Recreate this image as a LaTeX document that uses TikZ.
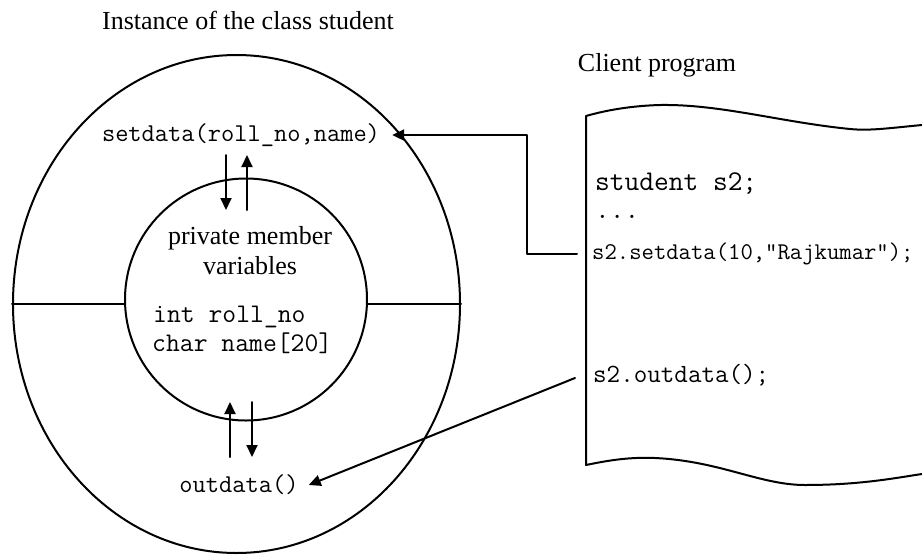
\documentclass[tikz,border=0pt]{standalone}
\usepackage{fontspec}
\setmainfont{Liberation Serif}
\usetikzlibrary{arrows.meta,shapes.geometric}
\tikzset{
  ln/.style={line width=2pt, line cap=round, line join=round},
  arr/.style={ln, -{Triangle[length=12pt,width=11pt]}},
  title/.style={font=\fontsize{26}{30}\selectfont, inner sep=0pt},
  code/.style={font=\ttfamily\fontsize{25.7}{28}\selectfont, inner sep=0pt, anchor=west},
}
\begin{document}
\begin{tikzpicture}[x=1pt,y=-1pt]
\useasboundingbox (0,0) rectangle (922,558);
% titles
\node[title] (t1) at (248,20) {Instance of the class student};
\node[title] (t2) at (657,65) {Client program};
% outer ellipse and inner circle
\node[ellipse, draw, ln, minimum width=447pt, minimum height=498pt, inner sep=0pt] (outer) at (236.5,304) {};
\node[circle, draw, ln, minimum size=242pt, inner sep=0pt] (inner) at (246,299.5) {};
\draw[ln] (outer.west) -- (outer.west -| inner.west);
\draw[ln] (outer.east) -- (outer.east -| inner.east);
% texts in the object
\node[code, anchor=center] (sd) at (241,135) {setdata(roll\_no,name)};
\node[title, align=center] (pm) at (250,251) {private member\\variables};
\node[code, font=\ttfamily\fontsize{26.9}{30}\selectfont] (v1) at (153,317) {int roll\_no};
\node[code, font=\ttfamily\fontsize{26.9}{30}\selectfont] (v2) at (152,343) {char name[20]};
\node[code, anchor=center] (od) at (239,485) {outdata()};
% vertical arrows
\coordinate (a1) at (226,155); \coordinate (a2) at (226,210);
\coordinate (b1) at (247,210); \coordinate (b2) at (247,155);
\draw[arr] (a1) -- (a2);
\draw[arr] (b1) -- (b2);
\coordinate (c1) at (230,457); \coordinate (c2) at (230,402);
\coordinate (d1) at (252,402); \coordinate (d2) at (252,457);
\draw[arr] (c1) -- (c2);
\draw[arr] (d1) -- (d2);
% client page
\draw[ln] (922,125) .. controls (890,128) and (870,131) .. (850,129)
  .. controls (780,122) and (720,104) .. (660,105)
  .. controls (625,106) and (600,112) .. (586,116)
  -- (586,465)
  .. controls (610,460) and (630,457) .. (655,458)
  .. controls (720,461) and (760,485) .. (805,485)
  .. controls (860,485) and (895,478) .. (922,474);
\node[code, font=\ttfamily\fontsize{28.6}{32}\selectfont] (cs1) at (595,184) {student s2;};
\node[code, font=\ttfamily\fontsize{28.6}{32}\selectfont, anchor=base west, text height=4pt, text depth=0pt] (cs2) at (595,218) {...};
\node[code, font=\ttfamily\fontsize{24}{28}\selectfont] (cs) at (592,254) {s2.setdata(10,"Rajkumar");};
\node[code, font=\ttfamily\fontsize{26.3}{30}\selectfont] (co) at (593,375) {s2.outdata();};
% connectors
\coordinate (bend) at (527,254);
\draw[arr] ([xshift=-15pt]cs.west) -- (bend |- cs.west) |- ([xshift=12pt]sd.east);
\draw[arr] ([xshift=-18pt,yshift=-3pt]co.west) -- ([xshift=10pt]od.east);
\end{tikzpicture}
\end{document}
